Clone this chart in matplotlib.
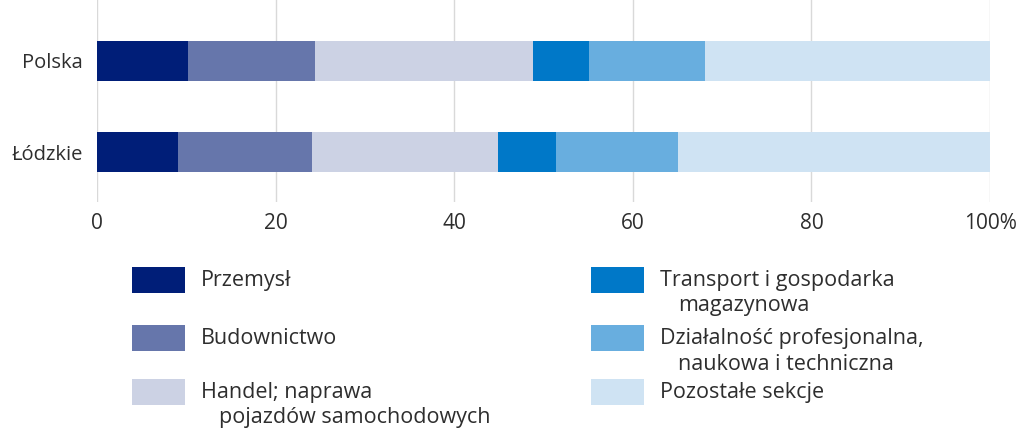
import matplotlib
matplotlib.use("Agg")
import matplotlib.pyplot as plt
from matplotlib.patches import Rectangle

plt.rcParams['font.family'] = ['Open Sans', 'DejaVu Sans']

regions = ["Polska", "Łódzkie"]
series_labels = [
    "Przemysł",
    "Budownictwo",
    "Handel; naprawa\npojazdów samochodowych",
    "Transport i gospodarka\nmagazynowa",
    "Działalność profesjonalna,\nnaukowa i techniczna",
    "Pozostałe sekcje",
]
przemysl = [10.2, 9.1]
budownictwo = [14.2, 15.0]
handel = [24.4, 20.8]
transport = [6.3, 6.5]
dzialalnosc = [13.0, 13.7]
pozostale = [31.9, 34.9]
series_values = [przemysl, budownictwo, handel, transport, dzialalnosc, pozostale]
colors = ["#001E78", "#6676AB", "#CCD2E4", "#0078C8", "#68AEDF", "#CFE3F3"]
xticks = [0, 20, 40, 60, 80, 100]
xtick_labels = ["0", "20", "40", "60", "80", "100%"]

W, H = 1024, 428
fig = plt.figure(figsize=(W / 100, H / 100), dpi=100)
ax = fig.add_axes([97 / W, 1 - 202 / H, (990 - 97) / W, 202 / H])

text_color = "#2E2E2E"
ypos = list(range(len(regions)))
left = [0.0] * len(regions)
for vals, col in zip(series_values, colors):
    ax.barh(ypos, vals, left=left, height=0.45, color=col, edgecolor='none', zorder=3)
    left = [l + v for l, v in zip(left, vals)]

ax.set_xlim(0, 100)
ax.set_ylim(1 + (202 - 152) / 91, -61 / 91)
ax.set_xticks(xticks)
ax.set_xticklabels(xtick_labels, fontsize=15, color=text_color)
ax.set_yticks(ypos)
ax.set_yticklabels(regions, fontsize=14.5, color=text_color)
ax.tick_params(axis='x', length=0, pad=8)
ax.tick_params(axis='y', length=0, pad=10)
ax.xaxis.grid(True, color="#D9D9D9", linewidth=1, zorder=0)
for s in ax.spines.values():
    s.set_visible(False)

# legend (manual layout, pixel positions)
sq_w, sq_h = 53, 26
legend_pos = [
    (132, 267), (132, 325), (132, 379),
    (591, 267), (591, 325), (591, 379),
]
fs = 15.5
for (x, ytop), col, lab in zip(legend_pos, colors, series_labels):
    fig.add_artist(Rectangle((x / W, 1 - (ytop + sq_h) / H), sq_w / W, sq_h / H,
                             transform=fig.transFigure, color=col, ec='none'))
    for i, line in enumerate(lab.split("\n")):
        tx = x + 69 + (18 if i else 0)
        base = ytop + 19 + 25.5 * i
        fig.text(tx / W, 1 - base / H, line, fontsize=fs, color=text_color,
                 ha='left', va='baseline')

fig.savefig("out.png", dpi=100)
